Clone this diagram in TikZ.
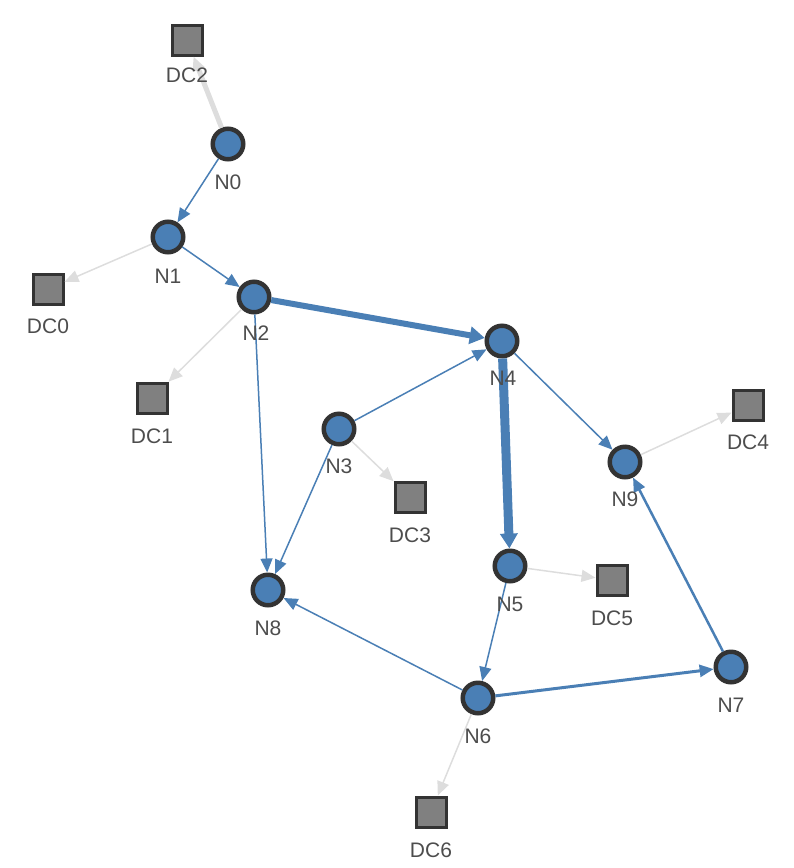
\documentclass[tikz,border=0pt]{standalone}
\usepackage{fontspec}
\setmainfont{Liberation Sans}
\usetikzlibrary{arrows.meta}
\definecolor{nodeblue}{HTML}{4A7FB5}
\definecolor{edgeblue}{HTML}{4A7FB5}
\definecolor{edgegray}{HTML}{DDDDDD}
\definecolor{dark}{HTML}{333333}
\definecolor{sqgray}{HTML}{808080}
\definecolor{txt}{HTML}{4D4D4D}
\begin{document}
\begin{tikzpicture}[x=1pt,y=-1pt,
  nd/.style={circle,draw=dark,fill=nodeblue,line width=3pt,minimum size=32pt,inner sep=0pt},
  dc/.style={rectangle,draw=dark,fill=sqgray,line width=3pt,minimum size=30pt,inner sep=0pt},
  lbl/.style={text=txt,font=\fontsize{21}{21}\selectfont,inner sep=0pt},
  be/.style={draw=edgeblue,line width=1.5pt,-{Triangle[length=14pt,width=12pt]}},
  bigtip/.style={-{Triangle[length=15pt,width=17pt]}},
  ge/.style={draw=edgegray,line width=1.5pt,-{Triangle[length=14pt,width=12pt]}}]
\useasboundingbox (0,0) rectangle (794,868);
% data centers
\node[dc] (DC2) at (187,40) {};
\node[dc] (DC0) at (48,289) {};
\node[dc] (DC1) at (152,398) {};
\node[dc] (DC3) at (410,497) {};
\node[dc] (DC4) at (748,405) {};
\node[dc] (DC5) at (612,580) {};
\node[dc] (DC6) at (431,812) {};
% nodes
\node[nd] (N0) at (228,144) {};
\node[nd] (N1) at (168,237) {};
\node[nd] (N2) at (254,297) {};
\node[nd] (N4) at (502,341) {};
\node[nd] (N3) at (339,429) {};
\node[nd] (N9) at (625,462) {};
\node[nd] (N5) at (510,566) {};
\node[nd] (N8) at (268,590) {};
\node[nd] (N6) at (478,698) {};
\node[nd] (N7) at (731,667) {};
% gray edges
\draw[ge,line width=5pt] (N0) -- (DC2);
\draw[ge] (N1) -- (DC0);
\draw[ge] (N2) -- (DC1);
\draw[ge] (N3) -- (DC3);
\draw[ge] (N9) -- (DC4);
\draw[ge] (N5) -- (DC5);
\draw[ge] (N6) -- (DC6);
% blue edges
\draw[be] (N0) -- (N1);
\draw[be] (N1) -- (N2);
\draw[be,line width=6pt,bigtip] (N2) -- (N4);
\draw[be] (N3) -- (N4);
\draw[be] (N2) -- (N8);
\draw[be] (N3) -- (N8);
\draw[be,line width=9pt,bigtip] (N4) -- (N5);
\draw[be] (N4) -- (N9);
\draw[be] (N5) -- (N6);
\draw[be] (N6) -- (N8);
\draw[be,line width=3pt] (N6) -- (N7);
\draw[be,line width=2.5pt] (N7) -- (N9);
% redraw nodes on top
\foreach \n in {N0,N1,N2,N3,N4,N5,N6,N7,N8,N9}{
  \draw[dark,line width=3pt,fill=nodeblue] (\n.center) circle (14.5pt);
}
% labels
\node[lbl] (lN0) at (228,182) {N0};
\node[lbl] (lN1) at (168,276) {N1};
\node[lbl] (lN2) at (256,333) {N2};
\node[lbl] (lN4) at (503,378) {N4};
\node[lbl] (lN3) at (339,466) {N3};
\node[lbl] (lN9) at (625,499) {N9};
\node[lbl] (lN5) at (510,604) {N5};
\node[lbl] (lN8) at (268,628) {N8};
\node[lbl] (lN6) at (478,736) {N6};
\node[lbl] (lN7) at (731,705) {N7};
\node[lbl] (lDC2) at (187,75) {DC2};
\node[lbl] (lDC0) at (48,326) {DC0};
\node[lbl] (lDC1) at (152,436) {DC1};
\node[lbl] (lDC3) at (410,535) {DC3};
\node[lbl] (lDC4) at (748,442) {DC4};
\node[lbl] (lDC5) at (612,618) {DC5};
\node[lbl] (lDC6) at (431,850) {DC6};
\end{tikzpicture}
\end{document}
